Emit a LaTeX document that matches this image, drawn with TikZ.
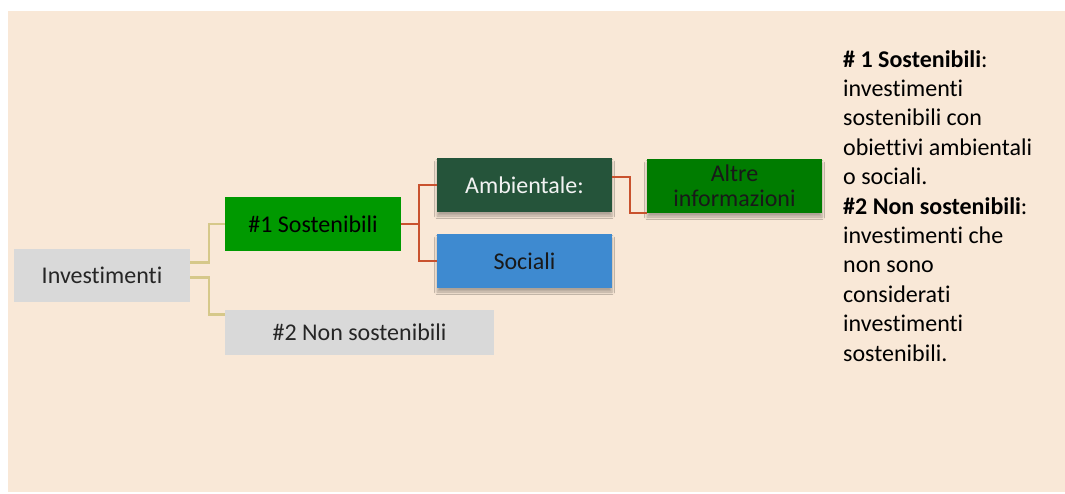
\documentclass[tikz,border=0pt]{standalone}
\usepackage{fontspec}
\setmainfont{Carlito}[RawFeature=-liga]
\usetikzlibrary{shadows.blur}
\definecolor{bg}{RGB}{249,232,215}
\definecolor{boxgray}{RGB}{217,217,217}
\definecolor{green1}{RGB}{0,153,0}
\definecolor{darkgreen}{RGB}{37,84,58}
\definecolor{blue1}{RGB}{62,138,208}
\definecolor{green2}{RGB}{0,124,0}
\definecolor{tanline}{RGB}{214,200,138}
\definecolor{redline}{RGB}{201,82,46}
\definecolor{txt}{RGB}{38,38,38}
\tikzset{
  box/.style={draw=none, inner sep=0pt, outer sep=0pt, anchor=north west, align=center,
    font=\fontsize{24}{25}\selectfont, text=txt},
  shad/.style={blur shadow={shadow xshift=0pt, shadow yshift=-4pt, shadow blur radius=2.5pt, shadow opacity=30, shadow blur extra rounding=0pt}},
  tconn/.style={draw=tanline, line width=2.2pt},
  rconn/.style={draw=redline, line width=2.8pt},
}
\begin{document}
\begin{tikzpicture}[x=1pt,y=-1pt]
\useasboundingbox (0,0) rectangle (1065,493);
\fill[bg] (8,11) rectangle (1065,492);
% nodes
\node[box, fill=boxgray, minimum width=176pt, minimum height=53pt] (inv) at (14,249) {Investimenti};
\node[box, fill=green1, text=black, minimum width=176pt, minimum height=54pt] (s1) at (225,197) {\#1 Sostenibili};
\node[box, fill=boxgray, minimum width=269pt, minimum height=45pt] (s2) at (225,310) {\#2 Non sostenibili};
\node[box, shad, fill=darkgreen, text={rgb,255:red,242;green,242;blue,242}, minimum width=175pt, minimum height=54pt] (amb) at (437,158) {Ambientale:};
\node[box, shad, fill=blue1, text=black!90, minimum width=175pt, minimum height=54pt] (soc) at (437,234) {Sociali};
\node[box, shad, fill=green2, text=black!90, minimum width=175pt, minimum height=54pt, font=\fontsize{24}{25}\selectfont] (alt) at (647,159) {Altre\\informazioni};
% connectors
\draw[tconn] ([yshift=13pt]inv.east) -- ++(19,0) |- (s1.west);
\draw[tconn] ([yshift=-2pt]inv.east) -- ++(19,0) |- ([yshift=18pt]s2.west);
\draw[rconn] (s1.east) -- ++(18,0) coordinate (rj) |- (amb.west);
\draw[rconn] (rj) |- (soc.west);
\draw[rconn] ([yshift=8pt]amb.east) -- ++(18,0) |- ([yshift=-27pt]alt.west);
% side text
\node[anchor=north west, inner sep=0pt, align=left, text=black,
  font=\fontsize{24}{29.4}\selectfont] (note) at (843,50)
  {\textbf{\# 1 Sostenibili}:\\investimenti\\sostenibili con\\obiettivi ambientali\\o sociali.\\\textbf{\#2 Non sostenibili}:\\investimenti che\\non sono\\considerati\\investimenti\\sostenibili.};
\end{tikzpicture}
\end{document}
